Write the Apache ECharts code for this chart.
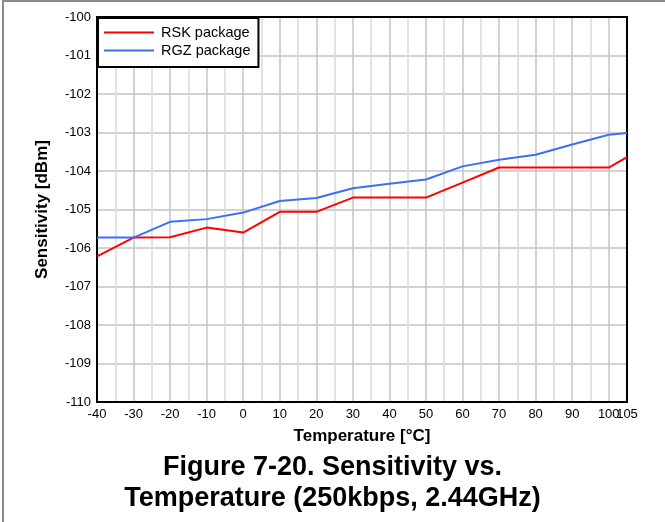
<!DOCTYPE html>
<html>
<head>
<meta charset="utf-8">
<script src="https://cdn.jsdelivr.net/npm/echarts@6/dist/echarts.min.js"></script>
<style>
html,body{margin:0;padding:0;background:#fff;}
#frame{position:absolute;left:0;top:0;width:665px;height:522px;}
#border{position:absolute;left:2px;top:0;width:663px;height:522px;border-left:2px solid #8a8a8a;border-top:2px solid #8a8a8a;box-sizing:border-box;pointer-events:none;}
#chart{position:absolute;left:0;top:0;width:665px;height:522px;}
</style>
</head>
<body>
<div id="frame"><div id="chart"></div><div id="border"></div></div>
<script>
const temperatures = [-40, -30, -20, -10, 0, 10, 20, 30, 40, 50, 60, 70, 80, 90, 100, 105];
const rskValues = [-106.22, -105.73, -105.72, -105.47, -105.60, -105.06, -105.06, -104.69, -104.69, -104.69, -104.30, -103.91, -103.91, -103.91, -103.91, -103.64];
const rgzValues = [-105.73, -105.73, -105.32, -105.25, -105.08, -104.78, -104.70, -104.45, -104.33, -104.22, -103.88, -103.71, -103.58, -103.31, -103.06, -103.01];
const seriesNames = ['RSK package', 'RGZ package'];
const titleLines = ['Figure 7-20. Sensitivity vs.', 'Temperature (250kbps, 2.44GHz)'];
const xAxisName = 'Temperature [°C]';
const yAxisName = 'Sensitivity [dBm]';
const xMaxTick = 105;

const font = 'Liberation Sans, Arial, sans-serif';
const chart = echarts.init(document.getElementById('chart'), null, {renderer: 'canvas'});
const pair = (vals) => temperatures.map((t, i) => [t, vals[i]]);

const baseX = {
  type: 'value',
  min: -40,
  max: xMaxTick,
  interval: 5,
  position: 'bottom',
  axisLine: {show: false},
  axisTick: {show: false}
};

chart.setOption({
  animation: false,
  backgroundColor: '#fff',
  textStyle: {fontFamily: font},
  title: {
    text: titleLines.join('\n'),
    left: 'center',
    top: 447,
    textStyle: {fontFamily: font, fontSize: 27, fontWeight: 'bold', color: '#000', lineHeight: 31}
  },
  legend: {
    orient: 'vertical',
    left: 98,
    top: 18,
    backgroundColor: '#fff',
    borderColor: '#000',
    borderWidth: 2,
    borderRadius: 0,
    padding: [7, 8, 9, 6],
    itemGap: 3,
    itemWidth: 50,
    itemHeight: 2,
    icon: 'rect',
    textStyle: {fontFamily: font, fontSize: 14.5, color: '#000', padding: [0, 0, 0, 2]},
    data: seriesNames
  },
  grid: {left: 97, right: 38, top: 17, bottom: 120, containLabel: false, show: true, borderColor: '#000', borderWidth: 2, z: 3},
  xAxis: [
    Object.assign({}, baseX, {
      name: xAxisName,
      nameLocation: 'middle',
      nameGap: 26,
      nameTextStyle: {fontFamily: font, fontSize: 17, fontWeight: 'bold', color: '#000'},
      axisLabel: {
        fontFamily: font, fontSize: 13, color: '#000', margin: 6,
        showMaxLabel: false, hideOverlap: false,
        formatter: (v) => (v % 10 === 0 && v !== xMaxTick) ? String(v) : ''
      },
      splitLine: {show: true, lineStyle: {color: ['#c4c4c4', '#dadada'], width: 1.5}}
    }),
    Object.assign({}, baseX, {
      axisLabel: {
        fontFamily: font, fontSize: 13, color: '#000', margin: 6,
        showMaxLabel: true, showMinLabel: false, hideOverlap: false,
        formatter: (v) => (v === xMaxTick) ? String(v) : ''
      },
      splitLine: {show: false}
    })
  ],
  yAxis: {
    type: 'value',
    min: -110,
    max: -100,
    interval: 1,
    name: yAxisName,
    nameLocation: 'middle',
    nameGap: 46,
    nameTextStyle: {fontFamily: font, fontSize: 17, fontWeight: 'bold', color: '#000'},
    axisLine: {show: false},
    axisTick: {show: false},
    axisLabel: {fontFamily: font, fontSize: 13, color: '#000', margin: 6},
    splitLine: {show: true, lineStyle: {color: '#c4c4c4', width: 1.5}}
  },
  series: [
    {name: seriesNames[0], type: 'line', xAxisIndex: 0, data: pair(rskValues), symbol: 'none', lineStyle: {color: '#ff0000', width: 2}, itemStyle: {color: '#ff0000'}, z: 4},
    {name: seriesNames[1], type: 'line', xAxisIndex: 0, data: pair(rgzValues), symbol: 'none', lineStyle: {color: '#3d6ef7', width: 2}, itemStyle: {color: '#3d6ef7'}, z: 4}
  ]
});
</script>
</body>
</html>
